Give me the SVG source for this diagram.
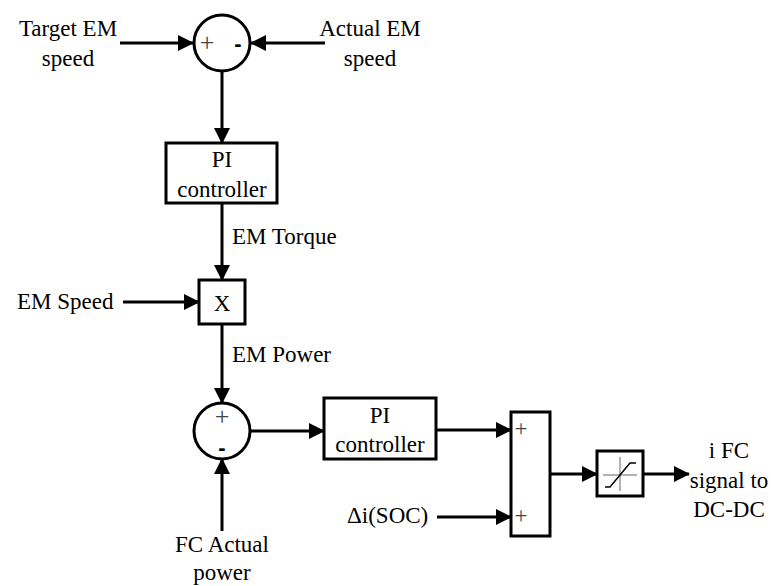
<svg xmlns="http://www.w3.org/2000/svg" width="771" height="586" viewBox="0 0 771 586">
<style>
.m{text-anchor:middle}
.c{fill:#fff;stroke:#000;stroke-width:3}
.w{stroke:#000;stroke-width:3;fill:none}
.s{fill:#444;text-anchor:middle}
.d{font-weight:bold;text-anchor:middle}
</style>
<defs>
<marker id="ah" markerWidth="16" markerHeight="16" refX="15" refY="8" orient="auto" markerUnits="userSpaceOnUse">
<path d="M0,0 L16,8 L0,16 Z" fill="#000"/>
</marker>
</defs>
<rect width="771" height="586" fill="#fff"/>
<g id="connectors" class="w">
<line x1="120" y1="43" x2="193" y2="43" marker-end="url(#ah)"/>
<line x1="325" y1="43" x2="251" y2="43" marker-end="url(#ah)"/>
<line x1="222" y1="71" x2="222" y2="143" marker-end="url(#ah)"/>
<line x1="222" y1="203" x2="222" y2="280" marker-end="url(#ah)"/>
<line x1="123" y1="302" x2="199" y2="302" marker-end="url(#ah)"/>
<line x1="222" y1="324" x2="222" y2="403" marker-end="url(#ah)"/>
<line x1="222" y1="531" x2="222" y2="459" marker-end="url(#ah)"/>
<line x1="250" y1="431" x2="324" y2="431" marker-end="url(#ah)"/>
<line x1="436" y1="430" x2="511" y2="430" marker-end="url(#ah)"/>
<line x1="437" y1="517" x2="511" y2="517" marker-end="url(#ah)"/>
<line x1="550" y1="474" x2="597" y2="474" marker-end="url(#ah)"/>
<line x1="643" y1="474" x2="689" y2="474" marker-end="url(#ah)"/>
</g>
<g font-family="Liberation Serif" font-size="23" fill="#000">
<g id="label-target"><text class="m" x="68" y="36">Target EM</text><text class="m" x="68" y="66">speed</text></g>
<g id="label-actual"><text class="m" x="370" y="36">Actual EM</text><text class="m" x="370" y="66">speed</text></g>
<g id="sum1"><circle class="c" cx="222" cy="43" r="28"/><text class="s" x="207" y="51" font-size="26">+</text><text class="d" x="238" y="51" font-family="Liberation Sans" font-size="22">-</text></g>
<g id="pi1"><rect class="c" x="166" y="143" width="111" height="60"/><text class="m" x="222" y="167">PI</text><text class="m" x="222" y="197">controller</text></g>
<g id="label-torque"><text x="232" y="244">EM Torque</text></g>
<g id="label-emspeed"><text x="17" y="309">EM Speed</text></g>
<g id="mult"><rect class="c" x="199" y="280" width="46" height="44"/><text class="m" x="222" y="311">X</text></g>
<g id="label-power"><text x="232" y="362">EM Power</text></g>
<g id="sum2"><circle class="c" cx="222" cy="431" r="28"/><text class="s" x="222" y="425" font-size="26">+</text><text class="d" x="222" y="455" font-family="Liberation Sans" font-size="22">-</text></g>
<g id="label-fc"><text class="m" x="222" y="552">FC Actual</text><text class="m" x="222" y="580">power</text></g>
<g id="pi2"><rect class="c" x="324" y="398" width="112" height="61"/><text class="m" x="380" y="423">PI</text><text class="m" x="380" y="452">controller</text></g>
<g id="label-soc"><text x="347" y="523">Δi(SOC)</text></g>
<g id="sum3"><rect class="c" x="511" y="412" width="39" height="124"/><text class="s" x="521" y="436" font-size="23">+</text><text class="s" x="521" y="523" font-size="23">+</text></g>
<g id="sat"><rect class="c" x="597" y="451" width="46" height="45"/><line x1="603" y1="475" x2="637" y2="475" stroke="#666" stroke-width="1"/><line x1="620" y1="457" x2="620" y2="491" stroke="#666" stroke-width="1"/><path d="M605,487 L610,487 L630,463 L636,463" fill="none" stroke="#000" stroke-width="1.5"/></g>
<g id="label-out"><text class="m" x="729" y="458">i FC</text><text class="m" x="729" y="488">signal to</text><text class="m" x="729" y="517">DC-DC</text></g>
</g>
</svg>
